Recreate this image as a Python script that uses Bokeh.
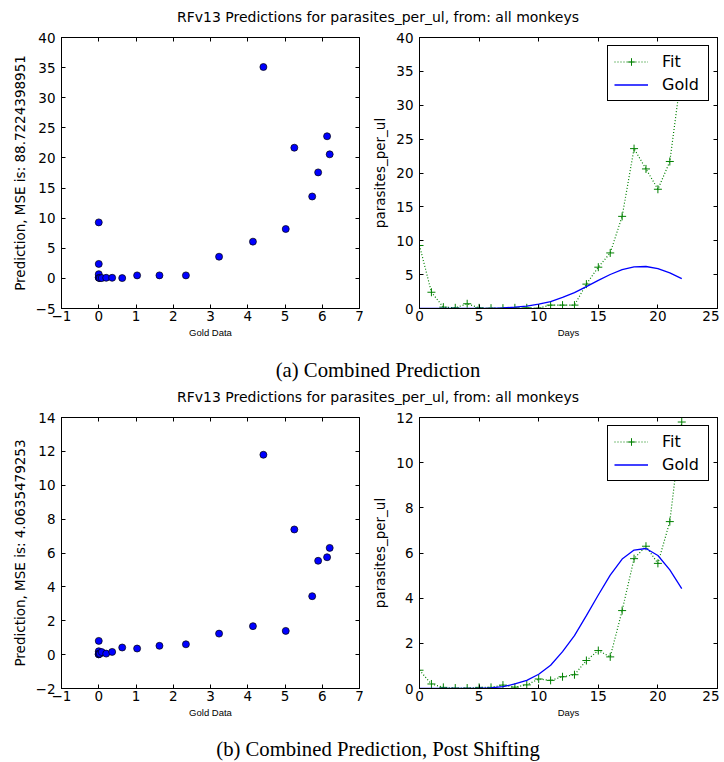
from bokeh.plotting import figure
from bokeh.layouts import column, row
from bokeh.models import (Range1d, LinearAxis, SingleIntervalTicker, Legend, LegendItem,
                          Label, CustomJSTickFormatter, CustomLabelingPolicy)
from bokeh.embed import file_html
from bokeh.resources import INLINE

# ---------------- data ----------------
suptitle = "RFv13 Predictions for parasites_per_ul, from: all monkeys"
captions = ["(a) Combined Prediction", "(b) Combined Prediction, Post Shifting"]
mse_labels = ["Prediction, MSE is: 88.7224398951", "Prediction, MSE is: 4.0635479253"]

days = list(range(23))
gold = [0.0, 0.0, 0.0, 0.0, 0.0, 0.01, 0.03, 0.08, 0.2, 0.36, 0.63, 1.03, 1.63,
        2.34, 3.23, 4.14, 5.02, 5.73, 6.13, 6.20, 5.89, 5.25, 4.42]
fit_combined = [9.3, 2.4, 0.2, 0.1, 0.7, 0.1, 0.05, 0.05, 0.1, 0.1, 0.05, 0.5, 0.5,
                0.5, 3.6, 6.1, 8.2, 13.6, 23.6, 20.6, 17.6, 21.7, 35.1]
fit_shifted = [0.81, 0.2, 0.05, 0.02, 0.02, 0.05, 0.05, 0.15, 0.06, 0.16, 0.42, 0.36, 0.52,
               0.61, 1.24, 1.68, 1.40, 3.45, 5.75, 6.30, 5.54, 7.39, 11.8]

scatter_y_ranges = [(-5, 40), (-2, 14)]
scatter_y_steps = [5, 2]
line_y_ranges = [(0, 40), (0, 12)]
line_y_steps = [5, 2]

FONT = "DejaVu Sans"
TICK_SIZE = "13.5px"
LEFT_W = 369
RIGHT_W = 350
TOTAL_W = LEFT_W + RIGHT_W
TEXT_X = 377.5


def minus_formatter():
    return CustomJSTickFormatter(
        code="return tick < 0 ? '\u2212' + Math.abs(tick) : String(tick);")


def style_axis(ax, ticker, label):
    ax.ticker = ticker
    ax.formatter = minus_formatter()
    ax.axis_line_color = "black"
    ax.axis_line_width = 1
    ax.major_tick_line_color = "black"
    ax.major_tick_in = 4
    ax.major_tick_out = 0
    ax.minor_tick_line_color = None
    ax.major_label_text_font = FONT
    ax.major_label_text_font_size = TICK_SIZE
    ax.major_label_text_color = "black"
    ax.axis_label = label


def dummy_axis(ticker):
    return LinearAxis(ticker=ticker, major_label_text_font_size="0px",
                      major_label_policy=CustomLabelingPolicy(code="return []"),
                      major_label_standoff=0, major_tick_in=4, major_tick_out=0,
                      minor_tick_line_color=None, axis_line_color="black",
                      axis_line_width=1, major_tick_line_color="black")


def base_fig(width, xr, yr, xstep, ystep, xlabel, ylabel, bl, br):
    p = figure(width=width, height=317, x_range=Range1d(*xr), y_range=Range1d(*yr),
               toolbar_location=None, output_backend="svg",
               min_border_left=bl, min_border_right=br, min_border_top=9,
               min_border_bottom=37)
    p.xgrid.visible = False
    p.ygrid.visible = False
    p.outline_line_color = "black"
    p.outline_line_alpha = 1
    p.outline_line_width = 1
    xt = SingleIntervalTicker(interval=xstep, num_minor_ticks=0)
    yt = SingleIntervalTicker(interval=ystep, num_minor_ticks=0)
    xa = p.xaxis[0]
    ya = p.yaxis[0]
    style_axis(xa, xt, xlabel)
    style_axis(ya, yt, ylabel)
    xa.major_label_standoff = 2
    xa.axis_label_standoff = 3
    xa.axis_label_text_font = "Liberation Sans"
    xa.axis_label_text_font_size = "9.5px"
    xa.axis_label_text_font_style = "normal"
    xa.axis_label_text_color = "black"
    ya.major_label_standoff = 6
    ya.axis_label_standoff = 5
    ya.axis_label_text_font = FONT
    ya.axis_label_text_font_size = TICK_SIZE
    ya.axis_label_text_font_style = "normal"
    ya.axis_label_text_color = "black"
    p.add_layout(dummy_axis(xt), "above")
    p.add_layout(dummy_axis(yt), "right")
    return p


def scatter_fig(fit, ylabel, yr, ystep):
    p = base_fig(LEFT_W, (-1, 7), yr, 1, ystep, "Gold Data", ylabel, 61, 10)
    p.scatter(gold, fit, size=7, fill_color="#0000ff", line_color="black", line_width=0.7)
    return p


def line_fig(fit, yr, ystep):
    p = base_fig(RIGHT_W, (0, 25), yr, 5, ystep, "Days", "parasites_per_ul", 50, 2)
    fl = p.line(days, fit, line_color="#008000", line_dash="1 2", line_width=1.2)
    fs = p.scatter(days, fit, marker="cross", size=8, line_color="#008000", line_width=1)
    gl = p.line(days, gold, line_color="#0000ff", line_width=1.3)
    legend = Legend(items=[LegendItem(label="Fit", renderers=[fl, fs]),
                           LegendItem(label="Gold", renderers=[gl])],
                    location="top_right", margin=8, padding=6, spacing=4,
                    glyph_width=34, glyph_height=19, label_height=19, label_width=40,
                    label_standoff=14, label_text_font=FONT, label_text_font_size="16px",
                    label_text_color="black", border_line_color="black",
                    border_line_width=1, border_line_alpha=1,
                    background_fill_color="white", background_fill_alpha=1)
    p.add_layout(legend)
    return p


def text_strip(height, text, y, font, size):
    p = figure(width=TOTAL_W, height=height, x_range=Range1d(0, TOTAL_W),
               y_range=Range1d(0, height), toolbar_location=None, output_backend="svg",
               min_border=0, x_axis_location=None, y_axis_location=None)
    p.grid.visible = False
    p.outline_line_color = None
    p.add_layout(Label(x=TEXT_X, y=y, text=text, text_align="center",
                       text_baseline="middle", text_font=font,
                       text_font_size=size, text_color="black"))
    return p


title_a = text_strip(28, suptitle, 11.5, FONT, "14px")
row_a = row(scatter_fig(fit_combined, mse_labels[0], scatter_y_ranges[0], scatter_y_steps[0]),
            line_fig(fit_combined, line_y_ranges[0], line_y_steps[0]))
cap_a = text_strip(43, captions[0], 18.5, "Liberation Serif", "20.7px")
title_b = text_strip(20, suptitle, 11.5, FONT, "14px")
row_b = row(scatter_fig(fit_shifted, mse_labels[1], scatter_y_ranges[1], scatter_y_steps[1]),
            line_fig(fit_shifted, line_y_ranges[1], line_y_steps[1]))
cap_b = text_strip(37, captions[1], 13.5, "Liberation Serif", "20.7px")

layout = column(title_a, row_a, cap_a, title_b, row_b, cap_b)

open("out.html", "w").write(file_html(layout, INLINE))
